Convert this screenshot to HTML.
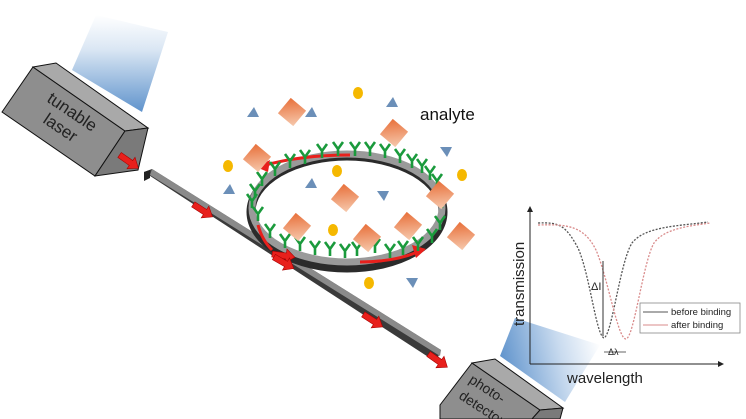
<!DOCTYPE html>
<html><head><meta charset="utf-8"><style>
html,body{margin:0;padding:0;background:#fff;}
svg{display:block;}
text{font-family:"Liberation Sans",sans-serif;}
</style></head><body>
<svg width="746" height="419" viewBox="0 0 746 419" xmlns="http://www.w3.org/2000/svg">
<defs>
<linearGradient id="beam1" x1="0.5" y1="0" x2="0.5" y2="1">
<stop offset="0" stop-color="#fff"/><stop offset="0.35" stop-color="#dbe7f4"/><stop offset="1" stop-color="#5f93cc"/></linearGradient>
<linearGradient id="beam2" x1="0" y1="0.5" x2="1" y2="0.3">
<stop offset="0" stop-color="#5f93cc"/><stop offset="0.6" stop-color="#c9dbef"/><stop offset="1" stop-color="#fff"/></linearGradient>
<linearGradient id="sq" x1="0" y1="0" x2="1" y2="1">
<stop offset="0" stop-color="#e8703a"/><stop offset="1" stop-color="#f6c9ad"/></linearGradient>
<g id="s"><rect x="-10" y="-10" width="20" height="20" fill="url(#sq)" transform="rotate(40)"/></g>
<g id="t"><polygon points="-6,4 6,4 1,-6" fill="#6b8fb8"/></g>
<g id="d"><polygon points="-6,-4 6,-4 1,6" fill="#6b8fb8"/></g>
<g id="y"><path d="M0,8 V1 M0,1 L-5,-6 M0,1 L5,-6" stroke="#1a9a3c" stroke-width="2.6" fill="none"/></g>
<g id="o"><ellipse rx="5" ry="6" fill="#f5b800"/></g>
<g id="ar"><path d="M-14,-3 L0,-3 L0,-7 L9,0 L0,7 L0,3 L-14,3Z" fill="#e8201c" stroke="#a00" stroke-width="0.6"/></g>
</defs>

<!-- laser beam -->
<polygon points="72,70 96,15 168,32 142,112" fill="url(#beam1)"/>
<!-- laser box -->
<polygon points="2,112 33,67 125,131 95,176" fill="#8e8e8e" stroke="#111" stroke-width="1"/>
<polygon points="33,67 56,63 148,128 125,131" fill="#a9a9a9" stroke="#111" stroke-width="1"/>
<polygon points="125,131 148,128 138,170 95,176" fill="#7a7a7a" stroke="#111" stroke-width="1"/>
<text font-size="17" fill="#222" transform="translate(46,101) rotate(34)">tunable</text>
<text font-size="17" fill="#222" transform="translate(42,122) rotate(34)">laser</text>
<use href="#ar" transform="translate(131,163) rotate(35)"/>

<!-- waveguide -->
<polygon points="144,172 152,169 441,350 436,362" fill="#3a3a3a"/>
<polygon points="152,169 441,350 440,356 150,175" fill="#8a8a8a"/>
<polygon points="144,172 150,170 150,178 144,181" fill="#222"/>

<!-- detector beam -->
<polygon points="500,356 515,318 600,345 565,402" fill="url(#beam2)"/>
<!-- detector -->
<polygon points="472,363 540,410 532,419 440,419 440,405" fill="#8e8e8e" stroke="#111" stroke-width="1"/>
<polygon points="472,363 495,359 563,408 540,410" fill="#a9a9a9" stroke="#111" stroke-width="1"/>
<polygon points="540,410 563,408 560,419 532,419" fill="#7a7a7a" stroke="#111" stroke-width="1"/>
<text font-size="14" fill="#222" transform="translate(468,382) rotate(33)">photo-</text>
<text font-size="14" fill="#222" transform="translate(458,398) rotate(33)">detector</text>
<use href="#ar" transform="translate(440,362) rotate(35)"/>

<!-- ring -->
<ellipse cx="347" cy="212" rx="96" ry="56" fill="none" stroke="#2b2b2b" stroke-width="9"/>
<ellipse cx="347" cy="208" rx="95" ry="54" fill="none" stroke="#9a9a9a" stroke-width="7"/>
<path d="M350,155 Q300,155 262,166" stroke="#e8201c" stroke-width="3" fill="none"/>
<polygon points="256,167 270,160 268,172" fill="#e8201c"/>
<path d="M360,262 Q395,262 420,251" stroke="#e8201c" stroke-width="3" fill="none"/>
<polygon points="426,249 412,245 416,258" fill="#e8201c"/>
<path d="M258,225 Q262,240 272,250" stroke="#e8201c" stroke-width="3" fill="none"/>
<use href="#ar" transform="translate(286,256) rotate(8)"/>
<use href="#ar" transform="translate(286,264) rotate(30)"/>
<use href="#ar" transform="translate(205,212) rotate(33)"/>
<use href="#ar" transform="translate(375,322) rotate(33)"/>

<!-- antibodies -->
<g>
<use href="#y" x="255" y="190"/><use href="#y" x="262" y="178"/><use href="#y" x="275" y="168"/>
<use href="#y" x="290" y="160"/><use href="#y" x="305" y="156"/><use href="#y" x="322" y="150"/>
<use href="#y" x="338" y="148"/><use href="#y" x="355" y="148"/><use href="#y" x="370" y="148"/>
<use href="#y" x="385" y="150"/><use href="#y" x="400" y="155"/><use href="#y" x="412" y="160"/>
<use href="#y" x="422" y="165"/><use href="#y" x="430" y="172"/><use href="#y" x="437" y="180"/>
<use href="#y" x="442" y="200"/><use href="#y" x="440" y="222"/><use href="#y" x="432" y="235"/>
<use href="#y" x="418" y="243"/><use href="#y" x="403" y="247"/><use href="#y" x="390" y="250"/>
<use href="#y" x="375" y="245"/><use href="#y" x="357" y="248"/><use href="#y" x="345" y="250"/>
<use href="#y" x="330" y="248"/><use href="#y" x="315" y="247"/><use href="#y" x="300" y="243"/>
<use href="#y" x="285" y="240"/><use href="#y" x="270" y="230"/><use href="#y" x="258" y="213"/>
<use href="#y" x="252" y="200"/>
</g>

<!-- particles -->
<use href="#s" x="292" y="112"/><use href="#s" x="394" y="133"/>
<use href="#s" x="257" y="158"/><use href="#s" x="345" y="198"/><use href="#s" x="440" y="195"/>
<use href="#s" x="461" y="236"/><use href="#s" x="297" y="227"/><use href="#s" x="367" y="238"/>
<use href="#s" x="408" y="226"/>
<use href="#t" x="253" y="113"/><use href="#t" x="311" y="113"/><use href="#t" x="392" y="103"/>
<use href="#t" x="229" y="190"/><use href="#t" x="311" y="184"/>
<use href="#d" x="446" y="151"/><use href="#d" x="383" y="195"/><use href="#d" x="412" y="282"/>
<use href="#o" x="358" y="93"/><use href="#o" x="228" y="166"/><use href="#o" x="337" y="171"/>
<use href="#o" x="462" y="175"/><use href="#o" x="333" y="230"/><use href="#o" x="369" y="283"/>
<text x="420" y="120" font-size="17" fill="#111">analyte</text>

<!-- graph -->
<line x1="530" y1="364" x2="720" y2="364" stroke="#222" stroke-width="1"/>
<polygon points="724,364 718,361 718,367" fill="#222"/>
<line x1="530" y1="364" x2="530" y2="210" stroke="#222" stroke-width="1"/>
<polygon points="530,206 527,212 533,212" fill="#222"/>
<text transform="translate(524,326) rotate(-90)" font-size="15" fill="#222">transmission</text>
<text x="567" y="383" font-size="15" fill="#222">wavelength</text>
<path d="M538,223 C560,222 566,226 578,248 C590,275 596,335 604,338 C612,335 620,262 632,243 C645,226 680,226 708,222" stroke="#555" stroke-width="1.3" fill="none" stroke-dasharray="2,1.5"/>
<path d="M538,225 C568,224 584,226 596,250 C608,278 618,340 626,339 C634,338 643,262 654,243 C665,228 690,226 710,223" stroke="#d98b8b" stroke-width="1.3" fill="none" stroke-dasharray="2,1.5"/>
<line x1="603" y1="261" x2="603" y2="336" stroke="#333" stroke-width="1"/>
<text x="591" y="290" font-size="11" fill="#222" font-family="Liberation Serif">ΔI</text>
<line x1="604" y1="352" x2="626" y2="352" stroke="#333" stroke-width="0.8"/>
<text x="608" y="355" font-size="9" fill="#222" font-family="Liberation Serif">Δλ</text>
<rect x="640" y="303" width="100" height="30" fill="#fff" stroke="#888" stroke-width="0.8"/>
<line x1="643" y1="312" x2="668" y2="312" stroke="#555" stroke-width="1"/>
<line x1="643" y1="325" x2="668" y2="325" stroke="#d98b8b" stroke-width="1"/>
<text x="671" y="315" font-size="9.5" fill="#222">before binding</text>
<text x="671" y="328" font-size="9.5" fill="#222">after binding</text>
</svg>
</body></html>
